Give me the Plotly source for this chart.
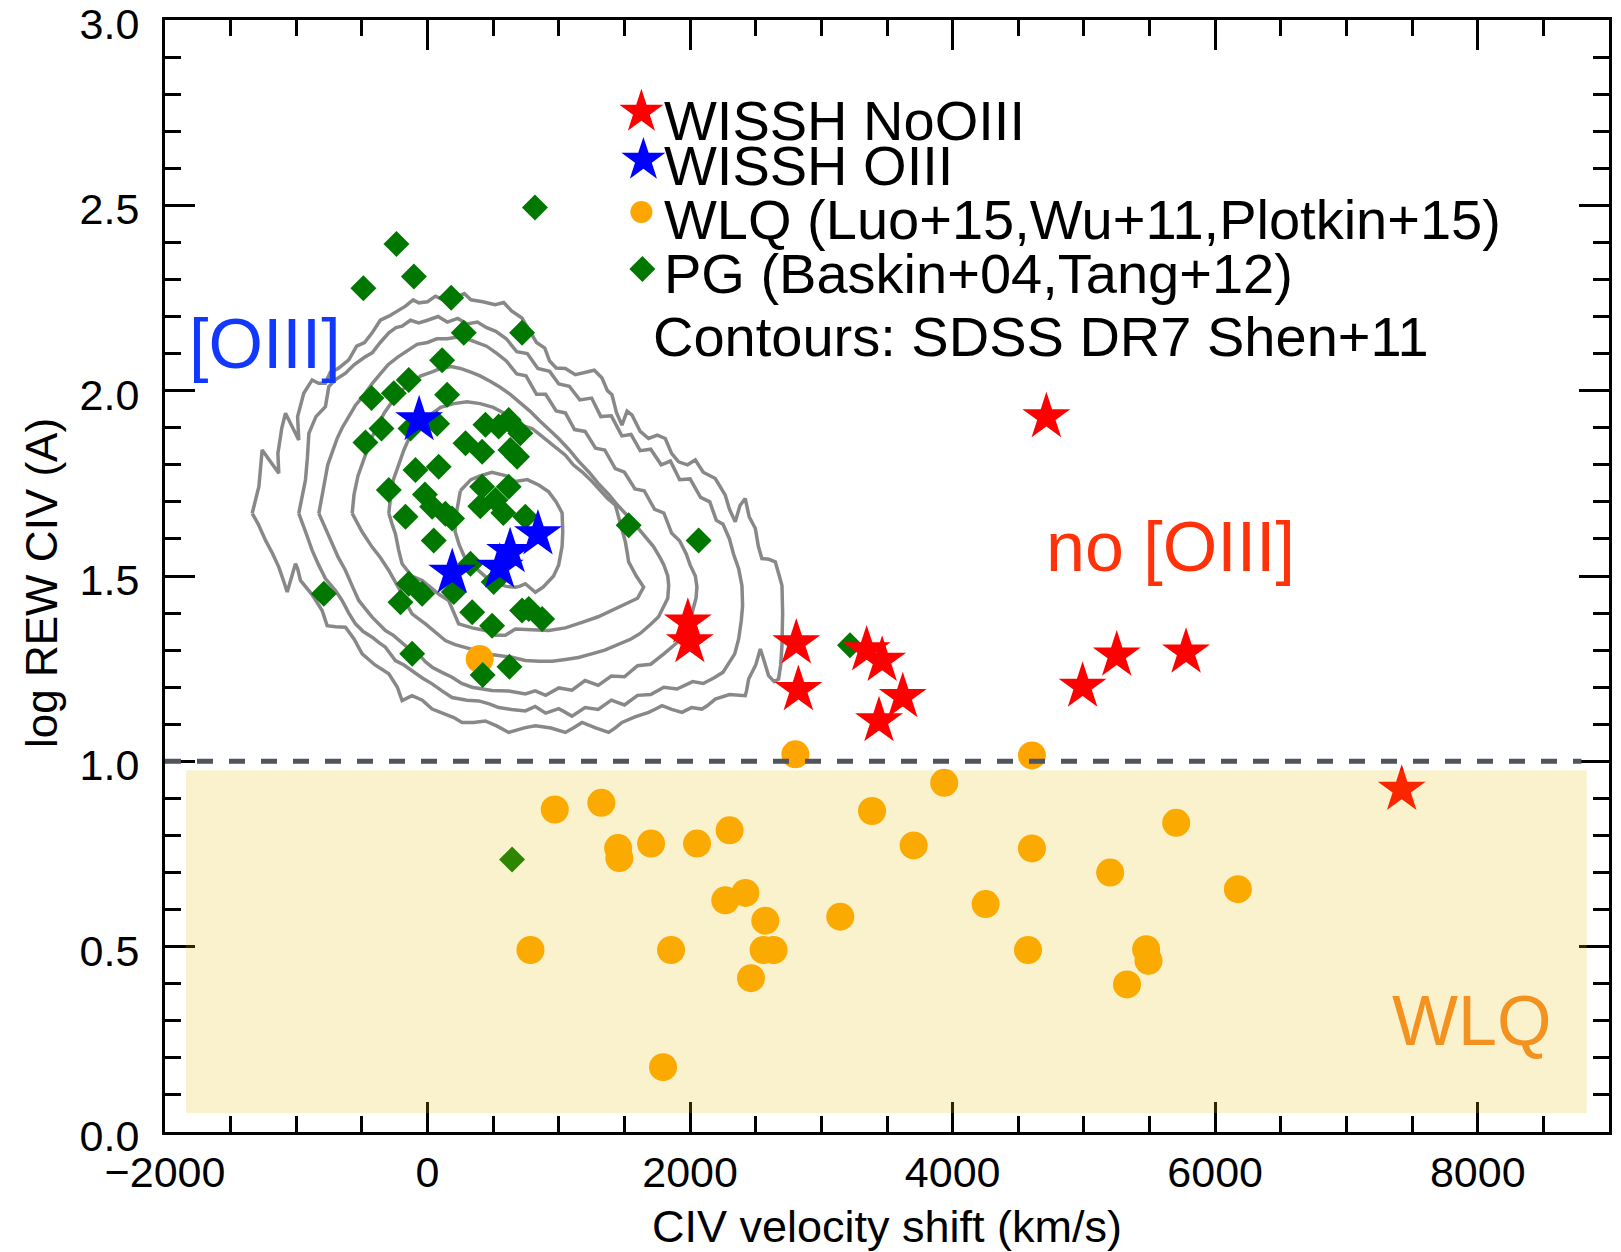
import plotly.graph_objects as go

FONT = "Liberation Sans, Arial, Helvetica, sans-serif"

# ---------------- data ----------------
# WISSH quasars without [OIII]
noo3_shift = [1983, 1998, 2809, 2825, 3345, 3463, 3620, 3439, 4714, 4990, 5250, 5778, 7421]
noo3_rew = [1.375, 1.322, 1.319, 1.193, 1.300, 1.272, 1.174, 1.109, 1.929, 1.202, 1.286, 1.294, 0.924]

# WISSH quasars with [OIII]
o3_shift = [-64, 188, 550, 629, 841]
o3_rew = [1.921, 1.509, 1.523, 1.565, 1.613]

# weak-line quasars
wlq_shift = [969, 1324, 1452, 1461, 1703, 2053, 2301, 2268, 2421, 2573, 2560, 2636, 2464,
             784, 1855, 1794, 3144, 3386, 2802, 4604, 3936, 3703, 4604, 5703, 5200, 6173,
             4251, 4574, 5474, 5492, 5328, 397]
wlq_rew = [0.870, 0.888, 0.766, 0.739, 0.778, 0.778, 0.814, 0.625, 0.645, 0.570, 0.491, 0.491, 0.415,
           0.491, 0.491, 0.175, 0.581, 0.866, 1.019, 1.016, 0.942, 0.773, 0.765, 0.834, 0.700, 0.655,
           0.615, 0.491, 0.493, 0.462, 0.398, 1.276]

# PG quasars
pg_shift = [818, -237, -489, -104, 180, 276, 720, 111, -257, -143, -427, 149, -351, -473, -130,
            73, 542, 441, 289, 416, 631, 618, -295, -92, 85, -168, 35, 136, 416, 517, 618,
            47, 187, -790, -143, -206, -41, 327, 200, 340, 492, -117, 420, 624, 504, 720,
            707, 682, 745, 1532, 2065, 771, 873, 3218, 644, 402, 577, -20]
pg_rew = [2.494, 2.396, 2.276, 2.308, 2.251, 2.156, 2.156, 2.082, 1.993, 2.029, 1.980, 1.989, 1.898,
          1.860, 1.898, 1.911, 1.903, 1.908, 1.858, 1.835, 1.840, 1.921, 1.732, 1.786, 1.795,
          1.660, 1.687, 1.668, 1.741, 1.705, 1.741, 1.596, 1.655, 1.452, 1.479, 1.429, 1.452,
          1.533, 1.457, 1.402, 1.366, 1.290, 1.233, 1.255, 1.484, 1.407, 1.885, 1.822, 1.660,
          1.637, 1.596, 1.411, 1.384, 1.313, 0.735, 1.688, 1.670, 1.720]

# SDSS DR7 density contours (outer to inner), traced as closed outlines
c1_x = [-1336, -1300, -1285, -1270, -1260, -1200, -1133, -1140, -1110, -1082, -1030, -981, -990, -943,
        -879, -830, -778, -740, -680, -600, -540, -480, -422, -360, -295, -230, -168, -110, -67, 0,
        60, 120, 200, 280, 330, 420, 515, 580, 640, 719, 780, 830, 893, 930, 980, 1050, 1126, 1200,
        1270, 1329, 1370, 1405, 1440, 1481, 1520, 1558, 1620, 1684, 1750, 1811, 1860, 1913, 1980,
        2040, 2100, 2192, 2230, 2268, 2300, 2344, 2380, 2420, 2450, 2497, 2520, 2547, 2600, 2649,
        2680, 2700, 2705, 2700, 2690, 2674, 2640, 2598, 2565, 2535, 2500, 2446, 2430, 2420, 2300,
        2192, 2130, 2090, 2010, 1938, 1860, 1786, 1730, 1684, 1580, 1481, 1430, 1380, 1280, 1177,
        1110, 1050, 940, 822, 745, 680, 618, 530, 440, 350, 263, 200, 136, 80, 35, -40, -118, -160,
        -194, -230, -295, -400, -498, -560, -625, -700, -765, -803, -880, -968, -990, -1006, -1040,
        -1069, -1100, -1133, -1180, -1234, -1290, -1336]
c1_y = [1.669, 1.720, 1.741, 1.800, 1.840, 1.810, 1.777, 1.830, 1.900, 1.939, 1.900, 1.867, 1.930, 1.993,
        2.029, 2.020, 2.020, 2.050, 2.060, 2.083, 2.120, 2.130, 2.156, 2.190, 2.201, 2.215, 2.228, 2.245,
        2.237, 2.240, 2.255, 2.245, 2.250, 2.262, 2.245, 2.240, 2.232, 2.238, 2.215, 2.196, 2.160, 2.130,
        2.115, 2.080, 2.061, 2.060, 2.043, 2.050, 2.055, 2.034, 2.000, 1.989, 1.940, 1.907, 1.945, 1.934,
        1.890, 1.871, 1.880, 1.871, 1.830, 1.808, 1.800, 1.813, 1.780, 1.763, 1.740, 1.718, 1.680, 1.646,
        1.690, 1.709, 1.660, 1.628, 1.580, 1.547, 1.545, 1.538, 1.500, 1.474, 1.400, 1.312, 1.260, 1.222,
        1.215, 1.231, 1.270, 1.303, 1.260, 1.222, 1.190, 1.177, 1.180, 1.168, 1.150, 1.141, 1.145, 1.132,
        1.140, 1.150, 1.140, 1.132, 1.120, 1.105, 1.090, 1.078, 1.090, 1.105, 1.090, 1.078, 1.090, 1.096,
        1.091, 1.085, 1.078, 1.095, 1.109, 1.105, 1.105, 1.118, 1.127, 1.135, 1.141, 1.165, 1.177, 1.170,
        1.164, 1.200, 1.236, 1.260, 1.290, 1.330, 1.362, 1.363, 1.366, 1.407, 1.450, 1.488, 1.520, 1.533,
        1.490, 1.457, 1.490, 1.524, 1.560, 1.596, 1.640, 1.669]

c2_x = [-981, -950, -930, -915, -904, -850, -778, -752, -700, -625, -560, -480, -422, -360, -295, -240,
        -194, -130, -67, 0, 80, 150, 230, 300, 380, 450, 520, 600, 680, 760, 840, 930, 1000, 1080, 1160,
        1250, 1320, 1400, 1480, 1550, 1620, 1700, 1780, 1850, 1920, 2000, 2080, 2150, 2200, 2250, 2300,
        2330, 2370, 2395, 2400, 2390, 2370, 2340, 2290, 2250, 2180, 2100, 2020, 1900, 1800, 1700, 1600,
        1500, 1400, 1300, 1200, 1100, 1000, 900, 820, 745, 640, 542, 470, 390, 300, 187, 110, 35, -40,
        -118, -180, -245, -280, -321, -370, -422, -490, -549, -600, -651, -700, -778, -830, -879, -930,
        -981]
c2_y = [1.669, 1.720, 1.759, 1.820, 1.885, 1.930, 1.957, 2.011, 2.030, 2.047, 2.070, 2.090, 2.102, 2.130,
        2.156, 2.170, 2.174, 2.190, 2.183, 2.190, 2.200, 2.185, 2.195, 2.180, 2.185, 2.170, 2.160, 2.140,
        2.105, 2.100, 2.060, 2.052, 2.018, 2.012, 1.975, 1.980, 1.930, 1.932, 1.878, 1.882, 1.838, 1.842,
        1.800, 1.810, 1.760, 1.762, 1.712, 1.700, 1.650, 1.640, 1.600, 1.560, 1.520, 1.474, 1.420, 1.380,
        1.330, 1.290, 1.260, 1.240, 1.225, 1.210, 1.215, 1.195, 1.200, 1.180, 1.178, 1.152, 1.165, 1.140,
        1.145, 1.122, 1.142, 1.130, 1.148, 1.136, 1.140, 1.145, 1.155, 1.163, 1.165, 1.172, 1.190, 1.209,
        1.225, 1.245, 1.260, 1.272, 1.290, 1.308, 1.320, 1.335, 1.350, 1.371, 1.400, 1.434, 1.460, 1.493,
        1.530, 1.569, 1.620, 1.669]

c3_x = [-828, -800, -790, -760, -730, -690, -650, -600, -550, -480, -420, -360, -300, -230, -150, -80,
        0, 70, 150, 230, 300, 380, 450, 530, 600, 680, 750, 830, 900, 980, 1050, 1120, 1200, 1280, 1350,
        1430, 1500, 1580, 1650, 1730, 1800, 1860, 1920, 1970, 2000, 2040, 2052, 2045, 2030, 2000, 1950,
        1900, 1800, 1700, 1600, 1500, 1400, 1300, 1200, 1100, 1000, 900, 820, 745, 620, 491, 420, 339,
        260, 187, 110, 35, -20, -67, -130, -200, -260, -321, -370, -422, -470, -524, -570, -625, -680,
        -727, -780, -828]
c3_y = [1.669, 1.720, 1.750, 1.800, 1.830, 1.870, 1.900, 1.930, 1.960, 1.990, 2.020, 2.045, 2.070, 2.090,
        2.110, 2.125, 2.130, 2.140, 2.140, 2.145, 2.140, 2.130, 2.120, 2.100, 2.080, 2.045, 2.040, 1.990,
        1.990, 1.945, 1.940, 1.895, 1.890, 1.845, 1.840, 1.790, 1.780, 1.735, 1.730, 1.680, 1.670, 1.615,
        1.595, 1.560, 1.530, 1.500, 1.470, 1.440, 1.420, 1.380, 1.350, 1.320, 1.290, 1.262, 1.258, 1.228,
        1.230, 1.205, 1.218, 1.192, 1.198, 1.178, 1.190, 1.182, 1.190, 1.191, 1.195, 1.200, 1.210, 1.227,
        1.240, 1.254, 1.270, 1.290, 1.300, 1.320, 1.340, 1.353, 1.370, 1.389, 1.410, 1.434, 1.470, 1.515,
        1.550, 1.587, 1.630, 1.669]

c4_x = [-574, -560, -530, -500, -460, -430, -380, -330, -270, -200, -130, -50, 30, 100, 180, 250, 330,
        400, 480, 550, 630, 700, 780, 850, 930, 1000, 1080, 1150, 1230, 1300, 1380, 1450, 1530, 1600,
        1670, 1720, 1770, 1800, 1830, 1837, 1830, 1800, 1760, 1700, 1620, 1550, 1450, 1350, 1250, 1150,
        1050, 950, 850, 745, 643, 540, 440, 360, 288, 210, 136, 60, -16, -70, -118, -160, -194, -240,
        -295, -360, -422, -500, -574]
c4_y = [1.669, 1.720, 1.770, 1.800, 1.840, 1.870, 1.905, 1.940, 1.970, 2.000, 2.020, 2.040, 2.050, 2.060,
        2.065, 2.060, 2.050, 2.040, 2.025, 2.010, 1.990, 1.970, 1.945, 1.920, 1.895, 1.870, 1.840, 1.810,
        1.780, 1.750, 1.720, 1.690, 1.660, 1.630, 1.600, 1.580, 1.550, 1.530, 1.500, 1.474, 1.440, 1.420,
        1.390, 1.370, 1.345, 1.330, 1.315, 1.300, 1.290, 1.280, 1.275, 1.270, 1.270, 1.272, 1.281, 1.285,
        1.290, 1.300, 1.308, 1.315, 1.326, 1.350, 1.371, 1.385, 1.398, 1.425, 1.452, 1.480, 1.515, 1.550,
        1.578, 1.620, 1.669]

c5_x = [-295, -280, -260, -220, -180, -130, -60, 20, 100, 200, 300, 400, 500, 580, 669, 730, 796, 860,
        923, 990, 1050, 1110, 1177, 1240, 1304, 1370, 1431, 1470, 1507, 1520, 1532, 1590, 1646, 1600,
        1540, 1431, 1300, 1177, 1050, 923, 800, 669, 593, 520, 440, 340, 237, 200, 161, 90, 20, -41,
        -120, -194, -220, -245, -270, -295]
c5_y = [1.669, 1.720, 1.760, 1.800, 1.840, 1.880, 1.910, 1.935, 1.955, 1.965, 1.970, 1.965, 1.955, 1.940,
        1.916, 1.905, 1.898, 1.880, 1.862, 1.845, 1.826, 1.800, 1.781, 1.760, 1.736, 1.710, 1.691, 1.640,
        1.592, 1.565, 1.538, 1.500, 1.470, 1.440, 1.430, 1.411, 1.390, 1.375, 1.360, 1.353, 1.355, 1.357,
        1.340, 1.340, 1.353, 1.360, 1.371, 1.400, 1.434, 1.450, 1.470, 1.488, 1.500, 1.533, 1.570, 1.614,
        1.640, 1.669]

c6_x = [250, 330, 400, 490, 600, 669, 760, 850, 923, 980, 1025, 1030, 1025, 1010, 999, 960, 923, 880,
        821, 790, 745, 700, 669, 600, 520, 457, 400, 340, 283, 240, 210, 215, 225, 250]
c6_y = [1.730, 1.760, 1.770, 1.780, 1.770, 1.755, 1.760, 1.745, 1.727, 1.700, 1.670, 1.620, 1.580, 1.550,
        1.530, 1.500, 1.485, 1.470, 1.456, 1.465, 1.479, 1.472, 1.470, 1.472, 1.480, 1.493, 1.510, 1.530,
        1.550, 1.585, 1.620, 1.660, 1.680, 1.730]

contours = [(c1_x, c1_y), (c2_x, c2_y), (c3_x, c3_y), (c4_x, c4_y), (c5_x, c5_y), (c6_x, c6_y)]

# axis ticks
x_ticks = [-2000, 0, 2000, 4000, 6000, 8000]
y_ticks = [0.0, 0.5, 1.0, 1.5, 2.0, 2.5, 3.0]
y_ticktext = ["0.0", "0.5", "1.0", "1.5", "2.0", "2.5", "3.0"]

# key entries drawn at the upper middle of the panel
key_labels = ["WISSH NoOIII", "WISSH OIII", "WLQ (Luo+15,Wu+11,Plotkin+15)", "PG (Baskin+04,Tang+12)"]
contour_note = "Contours: SDSS DR7 Shen+11"

# ---------------- styles ----------------
RED = "#FF0000"
BLUE = "#0000FF"
ORANGE = "#FFA500"
GREEN = "#007800"
GRAY = "#888888"

fig = go.Figure()

for cx, cy in contours:
    fig.add_trace(go.Scatter(x=cx, y=cy, mode="lines", line=dict(color=GRAY, width=3.5),
                             hoverinfo="skip", showlegend=False))

fig.add_trace(go.Scatter(x=wlq_shift, y=wlq_rew, mode="markers", name="WLQ",
                         marker=dict(symbol="circle", size=28, color=ORANGE, opacity=1, line=dict(width=0)),
                         showlegend=False))
fig.add_trace(go.Scatter(x=pg_shift, y=pg_rew, mode="markers", name="PG",
                         marker=dict(symbol="diamond", size=20, color=GREEN, opacity=1, line=dict(width=0)),
                         showlegend=False))
fig.add_trace(go.Scatter(x=noo3_shift, y=noo3_rew, mode="markers", name="WISSH NoOIII",
                         marker=dict(symbol="star", size=36, color=RED, opacity=1, line=dict(width=0)),
                         showlegend=False))
fig.add_trace(go.Scatter(x=o3_shift, y=o3_rew, mode="markers", name="WISSH OIII",
                         marker=dict(symbol="star", size=36, color=BLUE, opacity=1, line=dict(width=0)),
                         showlegend=False))

# key glyphs on an overlay axis pair spanning the panel in unit coordinates
key_gx = [0.3299, 0.3313, 0.3299, 0.3306]
key_gy = [0.9173, 0.8741, 0.8273, 0.7761]
key_sym = ["star", "star", "circle", "diamond"]
key_col = [RED, BLUE, ORANGE, GREEN]
key_size = [33, 33, 22, 20]
for gx, gy, sym, col, sz in zip(key_gx, key_gy, key_sym, key_col, key_size):
    fig.add_trace(go.Scatter(x=[gx], y=[gy], xaxis="x2", yaxis="y2", mode="markers",
                             marker=dict(symbol=sym, color=col, size=sz, opacity=1, line=dict(width=0)),
                             hoverinfo="skip", showlegend=False))

key_ty = [0.9092, 0.8696, 0.8210, 0.7716]
annotations = []
for lab, ty in zip(key_labels, key_ty):
    annotations.append(dict(x=0.3444, y=ty, xref="paper", yref="paper", text=lab, showarrow=False,
                            xanchor="left", yanchor="middle", font=dict(family=FONT, size=56, color="black")))
annotations.append(dict(x=0.3368, y=0.7158, xref="paper", yref="paper", text=contour_note, showarrow=False,
                        xanchor="left", yanchor="middle", font=dict(family=FONT, size=56, color="black")))

# region labels
annotations.append(dict(x=-1830, y=2.126, xref="x", yref="y", text="[OIII]", showarrow=False,
                        xanchor="left", yanchor="middle", font=dict(family=FONT, size=70, color="#1138FF")))
annotations.append(dict(x=4698, y=1.579, xref="x", yref="y", text="no [OIII]", showarrow=False,
                        xanchor="left", yanchor="middle", font=dict(family=FONT, size=70, color="#FF320A")))
annotations.append(dict(x=7330, y=0.299, xref="x", yref="y", text="WLQ", showarrow=False,
                        xanchor="left", yanchor="middle", font=dict(family=FONT, size=70, color="#F3921E")))

# axis titles
annotations.append(dict(x=0.5, y=-0.0854, xref="paper", yref="paper", text="CIV velocity shift (km/s)",
                        showarrow=False, xanchor="center", yanchor="middle",
                        font=dict(family=FONT, size=45, color="black")))
annotations.append(dict(x=-0.0859, y=0.4937, xref="paper", yref="paper", text="log REW CIV (A)",
                        showarrow=False, xanchor="center", yanchor="middle", textangle=-90,
                        font=dict(family=FONT, size=44, color="black")))

shapes = [
    # weak-line region
    dict(type="rect", xref="x", yref="y", x0=-1840, x1=8830, y0=0.051, y1=0.976,
         fillcolor="rgba(230,190,0,0.2)", line=dict(width=0), layer="above"),
    # REW = 10 A threshold
    dict(type="line", xref="x", yref="y", x0=-2000, x1=8790, y0=1.0, y1=1.0,
         line=dict(color="#50545C", width=5, dash="16px,16px"), layer="above"),
]

axis_common = dict(
    showline=True, linecolor="black", linewidth=3, mirror="allticks",
    ticks="inside", ticklen=30, tickwidth=3, tickcolor="black",
    showgrid=False, zeroline=False, ticklabeloverflow="allow", automargin=False,
    tickfont=dict(family=FONT, size=43, color="black"),
)

fig.update_layout(
    width=1621, height=1252,
    margin=dict(l=165, r=12, t=20, b=120),
    paper_bgcolor="white", plot_bgcolor="white",
    showlegend=False,
    xaxis=dict(range=[-2000, 9000], tickmode="array", tickvals=x_ticks, ticklabelstandoff=0,
               minor=dict(ticks="inside", ticklen=16, tickwidth=3, tickcolor="black", dtick=500,
                          tick0=0, showgrid=False),
               **axis_common),
    yaxis=dict(range=[0, 3], tickmode="array", tickvals=y_ticks, ticktext=y_ticktext,
               ticklabelstandoff=14, ticklabelshift=4,
               minor=dict(ticks="inside", ticklen=16, tickwidth=3, tickcolor="black", dtick=0.1,
                          tick0=0, showgrid=False),
               **axis_common),
    xaxis2=dict(range=[0, 1], overlaying="x", visible=False, fixedrange=True),
    yaxis2=dict(range=[0, 1], overlaying="y", visible=False, fixedrange=True),
    shapes=shapes,
    annotations=annotations,
)

fig.write_html("out.html")
